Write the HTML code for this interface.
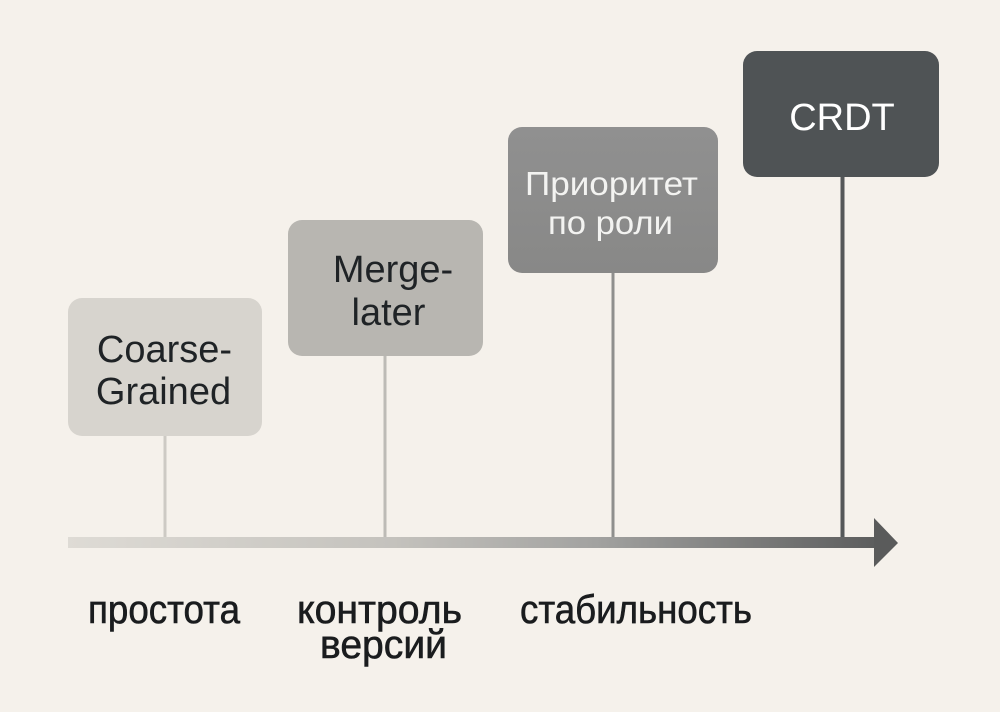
<!DOCTYPE html>
<html><head><meta charset="utf-8"><style>
html,body{margin:0;padding:0;background:#f5f1eb;}
svg{display:block;}
text{font-family:"Liberation Sans","DejaVu Sans",sans-serif;}
</style></head><body>
<svg width="1000" height="712" viewBox="0 0 1000 712" xmlns="http://www.w3.org/2000/svg">
<defs>
<linearGradient id="ax" x1="68" y1="0" x2="880" y2="0" gradientUnits="userSpaceOnUse">
<stop offset="0" stop-color="#dedbd5"/>
<stop offset="0.4" stop-color="#c4c2bd"/>
<stop offset="0.65" stop-color="#a2a2a0"/>
<stop offset="1" stop-color="#5b5c5c"/>
</linearGradient>
<linearGradient id="b3" x1="0" y1="0" x2="0" y2="1">
<stop offset="0" stop-color="#909090"/>
<stop offset="1" stop-color="#888887"/>
</linearGradient>
</defs>
<rect width="1000" height="712" fill="#f5f1eb"/>

<!-- stems -->
<rect x="163.5" y="434" width="3" height="105" fill="#cdcac4"/>
<rect x="383.5" y="354" width="3" height="185" fill="#bdbbb6"/>
<rect x="611.5" y="271" width="3" height="268" fill="#8f8f8d"/>
<rect x="840.5" y="175" width="4" height="364" fill="#555859"/>

<!-- axis -->
<rect x="68" y="537" width="810" height="11" fill="url(#ax)"/>
<polygon points="874,518 898,543 874,567" fill="#5a5b5b"/>

<!-- boxes -->
<rect x="68" y="298" width="194" height="138" rx="14" fill="#d7d4ce"/>
<rect x="288" y="220" width="195" height="136" rx="14" fill="#b8b6b1"/>
<rect x="508" y="127" width="210" height="146" rx="14" fill="url(#b3)"/>
<rect x="743" y="51" width="196" height="126" rx="14" fill="#4f5355"/>

<!-- box labels -->
<g font-size="38" fill="#1f2326" text-anchor="middle">
<text x="164.5" y="362">Coarse-</text>
<text x="163.5" y="404">Grained</text>
<text x="393" y="282">Merge-</text>
<text x="388.5" y="325">later</text>
</g>
<g font-size="33" fill="#f3f3f1" text-anchor="middle">
<text x="611.5" y="195" textLength="173" lengthAdjust="spacingAndGlyphs">Приоритет</text>
<text x="610.5" y="234" textLength="125" lengthAdjust="spacingAndGlyphs">по роли</text>
</g>
<text x="842" y="130" font-size="38" fill="#ffffff" text-anchor="middle">CRDT</text>

<!-- axis labels -->
<g font-size="40" fill="#1a1c1e" stroke="#1a1c1e" stroke-width="0.6">
<text x="88" y="623" textLength="152" lengthAdjust="spacingAndGlyphs">простота</text>
<text x="297" y="623" textLength="165" lengthAdjust="spacingAndGlyphs">контроль</text>
<text x="320" y="658" textLength="127" lengthAdjust="spacingAndGlyphs">версий</text>
<text x="520" y="623" textLength="232" lengthAdjust="spacingAndGlyphs">стабильность</text>
</g>
</svg>
</body></html>
